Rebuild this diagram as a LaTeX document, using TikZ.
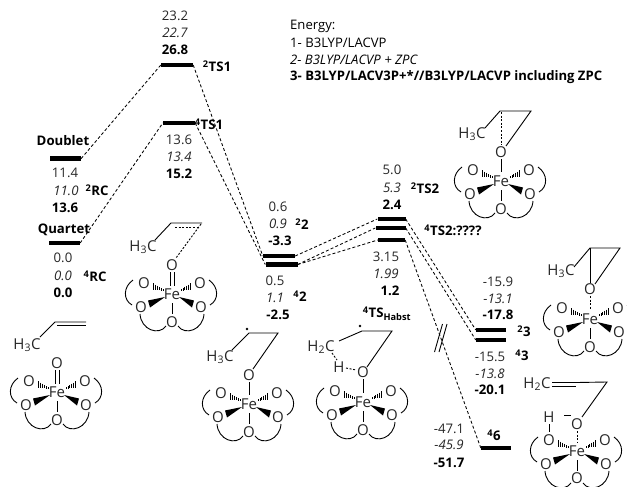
\documentclass[tikz,border=0pt]{standalone}
\usepackage{fontspec}
\setmainfont{Open Sans}
\newcommand{\fsz}{\fontsize{13.2}{15}\selectfont}
\tikzset{
  lev/.style={fill=black,inner sep=0pt,minimum height=4.6pt,rectangle,draw=none},
  conn/.style={line width=.85pt,dash pattern=on 3pt off 2.2pt},
  lab/.style={inner sep=0pt,font=\fsz,text=black!85},
  labi/.style={inner sep=0pt,font=\fsz\itshape,text=black!85},
  labb/.style={inner sep=0pt,font=\fsz\bfseries},
  leg/.style={inner sep=0pt,anchor=west,font=\fontsize{13.1}{14}\selectfont},
  atom/.style={inner sep=0pt,font=\fontsize{15}{16}\selectfont,text=black!85},
  bond/.style={line width=.9pt},
  dbond/.style={line width=.9pt,dash pattern=on 2pt off 1.6pt}
}
\usetikzlibrary{calc}
\newcommand{\hashb}[4]{% from (#1,#2) towards (#3,#4)
  \foreach \t in {0,.17,...,1.01}{
    \draw[line width=.7pt] ($(#1,#2)!\t!(#3,#4)+(0,-.8-2.8*\t)$) -- ($(#1,#2)!\t!(#3,#4)+(0,.8+2.8*\t)$);
  }}
\newcommand{\fecore}[2][28]{%
 \begin{scope}[shift={(#2)}]
  \node[atom] at (0,0) {Fe};
  \node[atom] at (-28,-11) {O};
  \node[atom] at (28,-11) {O};
  \node[atom] at (-31,13) {O};
  \node[atom] at (29,13) {O};
  \node[atom] at (0,#1) {O};
  \hashb{-9}{-4}{-20}{-8}
  \hashb{9}{-4}{20}{-8}
  \fill (-7,3) -- (-24,6.5) -- (-22,13.5) -- cycle;
  \fill (7,3) -- (22,6.5) -- (20,13.5) -- cycle;
  \draw[bond] (0,9) -- (0,20);
  \draw[bond] (-39,-14) .. controls (-49,-7) and (-49,6) .. (-40,11);
  \draw[bond] (37,-14) .. controls (47,-7) and (47,6) .. (38,11);
  \draw[bond] (-32,20) .. controls (-31,36) and (-13,42) .. (-6,32);
  \draw[bond] (32,20) .. controls (31,36) and (13,42) .. (6,32);
 \end{scope}}
\begin{document}
\begin{tikzpicture}[x=1pt,y=-1pt]
\useasboundingbox (0,0) rectangle (627,487);
\clip (0,0) rectangle (627,487);
% levels
\node[lev,minimum width=31pt] (d) at (65.5,158.5) {};
\node[lev,minimum width=31pt] (q) at (64.5,243) {};
\node[lev,minimum width=32pt] (t21) at (177,65) {};
\node[lev,minimum width=32pt] (t41) at (179,123) {};
\node[lev,minimum width=32pt] (i22) at (279,256) {};
\node[lev,minimum width=32pt] (i42) at (281.5,264.5) {};
\node[lev,minimum width=28pt] (t22) at (391.5,219) {};
\node[lev,minimum width=30pt] (t42) at (390.5,228) {};
\node[lev,minimum width=27pt] (th) at (391.5,240) {};
\node[lev,minimum width=30pt] (p23) at (491,330) {};
\node[lev,minimum width=30pt] (p43) at (491,340) {};
\node[lev,minimum width=30pt] (p46) at (496,448) {};
% connectors
\draw[conn] (d.east) -- (t21.west);
\draw[conn] (q.east) -- (t41.west);
\draw[conn] (t21.east) -- (i22.west);
\draw[conn] (t41.east) -- (i42.west);
\draw[conn] (i22.east) -- (t22.west);
\draw[conn] (i42.east) -- (t42.west);
\draw[conn] (i42.east) -- (th.west);
\draw[conn] (t22.east) -- (p23.west);
\draw[conn] (t42.east) -- (p43.west);
\draw[conn] (th.east) -- (p46.west);
\draw[line width=.9pt] (442.5,324) -- (434.5,352);
\draw[line width=.9pt] (447,324) -- (439,352);
% energy labels
\node[lab] at (175,16) {23.2}; \node[labi] at (175,33) {22.7}; \node[labb] at (175,50) {26.8};
\node[labb] at (217,66) {\textsuperscript{2}TS1};
\node[labb] at (209,124) {\textsuperscript{4}TS1};
\node[labb] at (63,141) {Doublet};
\node[lab] at (65,173) {11.4}; \node[labi] at (66,191) {11.0}; \node[labb] at (65,208) {13.6};
\node[labb] at (97,190) {\textsuperscript{2}RC};
\node[lab] at (179,140) {13.6}; \node[labi] at (179,157) {13.4}; \node[labb] at (179,174) {15.2};
\node[labb] at (64,230) {Quartet};
\node[lab] at (278,207) {0.6}; \node[labi] at (278,224) {0.9}; \node[labb] at (280,241) {-3.3};
\node[labb] at (302,224) {\textsuperscript{2}2};
\node[lab] at (63,258) {0.0}; \node[labi] at (63,276) {0.0}; \node[labb] at (63,293) {0.0};
\node[labb] at (95,276) {\textsuperscript{4}RC};
\node[lab] at (275,281) {0.5}; \node[labi] at (275,298) {1.1}; \node[labb] at (278,315) {-2.5};
\node[labb] at (300,296) {\textsuperscript{4}2};
\node[lab] at (392,170) {5.0}; \node[labi] at (392,188) {5.3}; \node[labb] at (392,205) {2.4};
\node[labb] at (425,188) {\textsuperscript{2}TS2};
\node[labb] at (453,230) {\textsuperscript{4}TS2:????};
\node[lab] at (386,257) {3.15}; \node[labi] at (386,274) {1.99}; \node[labb] at (390,291) {1.2};
\node[labb] at (387,314) {\textsuperscript{4}TS\textsubscript{Habst}};
\node[lab] at (498,282) {-15.9}; \node[labi] at (498,299) {-13.1}; \node[labb] at (498,315) {-17.8};
\node[labb] at (524,331) {\textsuperscript{2}3};
\node[labb] at (522,355) {\textsuperscript{4}3};
\node[lab] at (490,357) {-15.5}; \node[labi] at (490,374) {-13.8}; \node[labb] at (490,390) {-20.1};
\node[lab] at (449,429) {-47.1}; \node[labi] at (449,445) {-45.9}; \node[labb] at (449,463) {-51.7};
\node[labb] at (494,435) {\textsuperscript{4}6};
% legend
\node[leg] at (290,26) {Energy:};
\node[leg] at (290,43) {1- B3LYP/LACVP};
\node[leg,font=\fontsize{13.1}{14}\selectfont\itshape] at (290,60) {2- B3LYP/LACVP + ZPC};
\node[leg,font=\fontsize{13.1}{14}\selectfont\bfseries] at (290,77) {3- B3LYP/LACV3P+*//B3LYP/LACVP including ZPC};
% complex A (RC)
\fecore{57,392}
\node[atom] at (57,363) {O};
\draw[bond] (55,370) -- (55,384); \draw[bond] (59,370) -- (59,384);
\node[atom] at (27,345) {H\textsubscript{3}C};
\draw[bond] (40,337) -- (55,322) -- (86,322);
\draw[bond] (57,325) -- (86,325);
% complex B (TS1)
\fecore{172,294}
\node[atom] at (172,265) {O};
\draw[bond] (170,272) -- (170,286); \draw[bond] (174,272) -- (174,286);
\node[atom] at (143,247) {H\textsubscript{3}C};
\draw[bond] (155,240) -- (171,223) -- (202,223);
\draw[dbond] (175,227) -- (198,227);
\draw[dbond] (201,224) -- (176,258);
% complex C (2)
\fecore{249,404}
\node[atom] at (249,375) {O};
\draw[bond] (249,382) -- (249,395);
\node[atom] at (220,357) {H\textsubscript{3}C};
\draw[bond] (232,350) -- (249,333) -- (278,333) -- (253,369);
\fill (247,329) circle (1.3);
% complex D (TS Habst)
\fecore{363,402}
\node[atom] at (363,372) {O};
\draw[bond] (363,379) -- (363,393);
\node[atom] at (321,347) {H\textsubscript{2}C};
\node[atom] at (339,367) {H};
\draw[bond] (339,341) -- (362,331) -- (392,331) -- (367,367);
\fill (360,326) circle (1.3);
\draw[dbond] (332,353) -- (337,360);
\draw[dbond] (346,368) -- (356,370);
% complex E (TS2)
\fecore{501,181}
\node[atom] at (501,152) {O};
\draw[bond] (501,159) -- (501,172);
\node[atom] at (472,134) {H\textsubscript{3}C};
\draw[bond] (485,128) -- (500,111) -- (531,111) -- (506,146);
\draw[dbond] (501,112) -- (501,145);
% complex F (3)
\fecore{590,319}
\node[atom] at (590,289) {O};
\draw[dbond] (590,296) -- (590,310);
\node[atom] at (561,271) {H\textsubscript{3}C};
\draw[bond] (574,267) -- (590,248) -- (620,248) -- (595,284);
\draw[bond] (590,248) -- (590,283);
% complex G (6)
\fecore[27]{577,451}
\node[atom] at (577,424) {O};
\draw[dbond] (577,431) -- (577,443);
\node[atom] at (537,384) {H\textsubscript{2}C};
\draw[bond] (552,382.5) -- (577,382.5) -- (607,382) -- (582,417);
\draw[bond] (552,386) -- (576,386);
\node[atom] at (549,417) {H};
\draw[bond] (549,424) -- (549,432);
\draw[bond] (564,415) -- (571,415);
\end{tikzpicture}
\end{document}
